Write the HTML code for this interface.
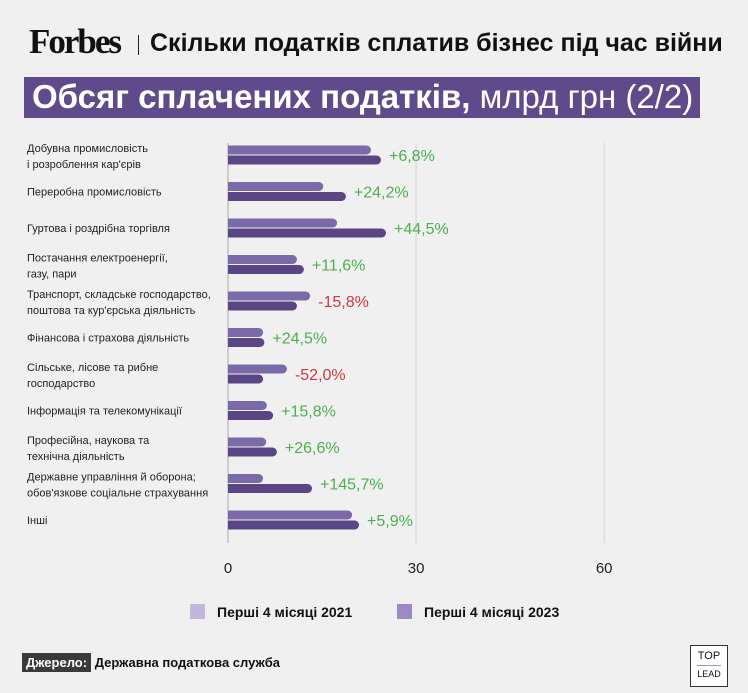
<!DOCTYPE html>
<html><head><meta charset="utf-8"><style>
body{margin:0;width:748px;height:693px;background:#f0f0f0;font-family:"Liberation Sans","Noto Sans CJK SC",sans-serif;overflow:hidden;position:relative}
</style></head><body>
<div style="position:absolute;left:29px;top:22px;font-family:'Liberation Serif',serif;font-weight:bold;font-size:35px;letter-spacing:-2px;color:#111">Forbes</div>
<div style="position:absolute;left:138px;top:35px;width:1px;height:20px;background:#222"></div>
<div style="position:absolute;left:150px;top:29px;font-size:25px;font-weight:bold;color:#111;white-space:nowrap">Скільки податків сплатив бізнес під час війни</div>
<div style="position:absolute;left:24px;top:77px;width:676px;height:41px;background:#5f4b8b"></div>
<div style="position:absolute;left:32px;top:78px;font-size:33px;color:#fff;white-space:nowrap"><b>Обсяг сплачених податків,</b> млрд грн (2/2)</div>
<svg id="chart" width="748" height="693" style="position:absolute;left:0;top:0"></svg>
<div style="position:absolute;left:190px;top:604px;font-size:14px;font-weight:bold;color:#111;white-space:nowrap"><span style="display:inline-block;width:15px;height:15px;background:#c3b6dc;vertical-align:-2px;margin-right:12px"></span>Перші 4 місяці 2021</div>
<div style="position:absolute;left:397px;top:604px;font-size:14px;font-weight:bold;color:#111;white-space:nowrap"><span style="display:inline-block;width:15px;height:15px;background:#9d8ac5;vertical-align:-2px;margin-right:12px"></span>Перші 4 місяці 2023</div>
<div style="position:absolute;left:22px;top:655px;font-size:13px;font-weight:bold;color:#111;white-space:nowrap"><span style="background:#3a3a3a;color:#fff;padding:2px 4px">Джерело:</span> Державна податкова служба</div>
<div style="position:absolute;left:690px;top:645px;width:36px;height:40px;border:1px solid #333;background:#fff;text-align:center;font-size:11px;line-height:13px;color:#111"><div style="margin-top:4px">TOP</div><div style="width:24px;height:1px;background:#b08ac8;margin:2px auto"></div><div style="font-size:9px">LEAD</div></div>
<script>
const categories=[["Добувна промисловість","і розроблення кар'єрів"],["Переробна промисловість"],["Гуртова і роздрібна торгівля"],["Постачання електроенергії,","газу, пари"],["Транспорт, складське господарство,","поштова та кур'єрська діяльність"],["Фінансова і страхова діяльність"],["Сільське, лісове та рибне","господарство"],["Інформація та телекомунікації"],["Професійна, наукова та","технічна діяльність"],["Державне управління й оборона;","обов'язкове соціальне страхування"],["Інші"]];
const values2021=[22.8,15.2,17.4,11.0,13.1,5.6,9.4,6.2,6.1,5.6,19.8];
const values2023=[24.4,18.8,25.2,12.1,11.0,5.8,5.6,7.2,7.8,13.4,20.9];
const changes=["+6,8%","+24,2%","+44,5%","+11,6%","-15,8%","+24,5%","-52,0%","+15,8%","+26,6%","+145,7%","+5,9%"];
const ticks=[0,30,60];
const NS="http://www.w3.org/2000/svg";
const svg=document.getElementById('chart');
const x=v=>228+v*6.27;
const y=i=>155+i*36.5;
function mk(t,a){const e=document.createElementNS(NS,t);for(const k in a)e.setAttribute(k,a[k]);svg.appendChild(e);return e;}
ticks.forEach((t,i)=>{
 const l=mk('line',{x1:x(t),x2:x(t),y1:143,y2:543,stroke:i==0?'#aaa':'#d4d4d4','stroke-width':1});
 
 
 const tx=mk('text',{x:x(t),y:573,'text-anchor':'middle','font-size':15,fill:'#222'});
 tx.textContent=t;
 
 
});
function bar(v,yt,c,name){
 const w=x(v)-228,h=9,r=4.5;
 const p=mk('path',{d:`M228 ${yt}H${228+w-r}A${r} ${r} 0 0 1 ${228+w-r} ${yt+h}H228Z`,fill:c});
 
 
}
categories.forEach((c,i)=>{
 const cy=y(i);
 bar(values2021[i],cy-9.5,'#7a6aa8','bar-2021-'+i);
 bar(values2023[i],cy+0.5,'#5a4585','bar-2023-'+i);
 const lab=mk('text',{x:x(Math.max(values2021[i],values2023[i]))+8,y:cy+6,'font-size':16,fill:changes[i][0]=='-'?'#d2383f':'#4caf50'});
 lab.textContent=changes[i];
 
 
 const t=mk('text',{x:27,'font-size':11,fill:'#222'});
 
 
 const y0=c.length==1?cy+4:cy-3;
 c.forEach((s,j)=>{const ts=document.createElementNS(NS,'tspan');ts.setAttribute('x',27);ts.setAttribute('y',y0+j*16);ts.textContent=s;t.appendChild(ts);});
});
</script>
</body></html>
